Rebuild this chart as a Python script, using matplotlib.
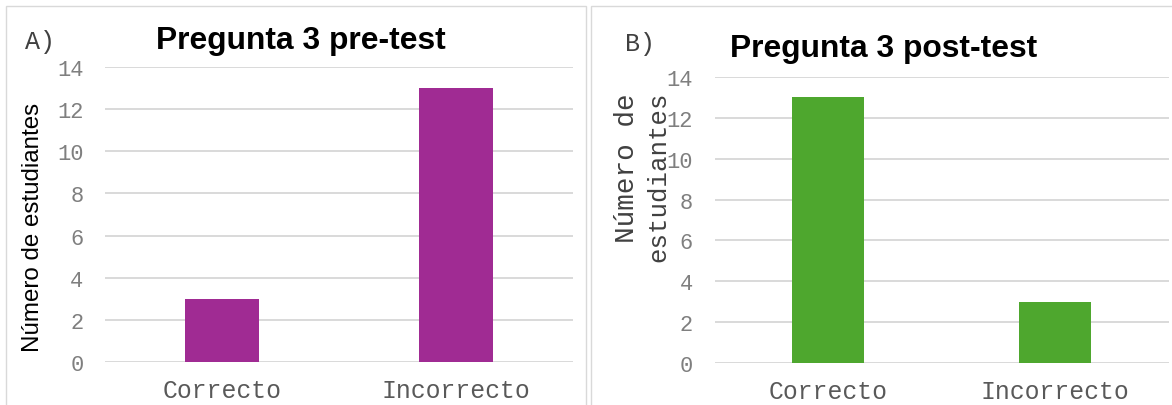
import matplotlib
matplotlib.use("Agg")
import matplotlib.pyplot as plt
from matplotlib.patches import Rectangle

categories = ["Correcto", "Incorrecto"]
pre_values = [3, 13]
post_values = [13, 3]
yticks = [0, 2, 4, 6, 8, 10, 12, 14]

W, H = 1172, 406
fig = plt.figure(figsize=(W / 100, H / 100), dpi=100)
fig.patch.set_facecolor("white")

def px(x0, y_top, x1, y_bot):
    return [x0 / W, 1 - y_bot / H, (x1 - x0) / W, (y_bot - y_top) / H]

# panel borders
fig.patches.append(Rectangle((6 / W, -0.1), (586 - 6) / W, 1.1 - 7 / H,
                             transform=fig.transFigure, fill=False,
                             edgecolor="#d9d9d9", linewidth=1.0))
fig.patches.append(Rectangle((590.5 / W, -0.1), 0.6, 1.1 - 7 / H,
                             transform=fig.transFigure, fill=False,
                             edgecolor="#d9d9d9", linewidth=1.0))

mono = "Liberation Mono"
sans = "Liberation Sans"

def setup(ax, values, color):
    ax.bar(range(len(categories)), values, width=0.315, color=color, zorder=3)
    ax.set_xlim(-0.5, 1.5)
    ax.set_ylim(0, 14)
    ax.set_yticks(yticks)
    ax.set_xticks(range(len(categories)))
    ax.set_xticklabels(categories, fontfamily=mono, fontsize=17.8, color="#595959")
    ax.set_yticklabels([str(t) for t in yticks], fontfamily=mono, fontsize=15.8, color="#7f7f7f")
    ax.tick_params(axis="y", length=0, pad=15.5)
    ax.tick_params(axis="x", length=0, pad=11.5)
    ax.grid(axis="y", color="#d9d9d9", linewidth=1.4, zorder=0)
    for s in ax.spines.values():
        s.set_visible(False)
    ax.set_facecolor("none")

ax1 = fig.add_axes(px(105, 68, 573, 363))
setup(ax1, pre_values, "#A02B93")
ax2 = fig.add_axes(px(714.5, 78, 1168.5, 364))
setup(ax2, post_values, "#4EA72E")

# titles
fig.text(301 / W, 1 - 49 / H, "Pregunta 3 pre-test", fontfamily=sans, fontweight="bold",
         fontsize=22.9, ha="center", va="baseline", color="black")
fig.text(884 / W, 1 - 57 / H, "Pregunta 3 post-test", fontfamily=sans, fontweight="bold",
         fontsize=22.9, ha="center", va="baseline", color="black")

# panel letters
fig.text(25 / W, 1 - 42.5 / H, "A)", fontfamily=mono, fontsize=18, ha="left", va="center", color="#404040")
fig.text(625 / W, 1 - 44 / H, "B)", fontfamily=mono, fontsize=18, ha="left", va="center", color="#404040")

# y labels
fig.text(33 / W, 1 - 227 / H, "Número de estudiantes", fontfamily=sans, fontsize=17.4,
         rotation=90, ha="center", va="center", color="black")
fig.text(627 / W, 1 - 93 / H, "Número de", fontfamily=mono, fontsize=20,
         rotation=90, ha="center", va="top", color="#404040")
fig.text(658 / W, 1 - 92 / H, "estudiantes", fontfamily=mono, fontsize=18.5,
         rotation=90, ha="center", va="top", color="#404040")

fig.savefig("out.png", dpi=100, facecolor="white")
